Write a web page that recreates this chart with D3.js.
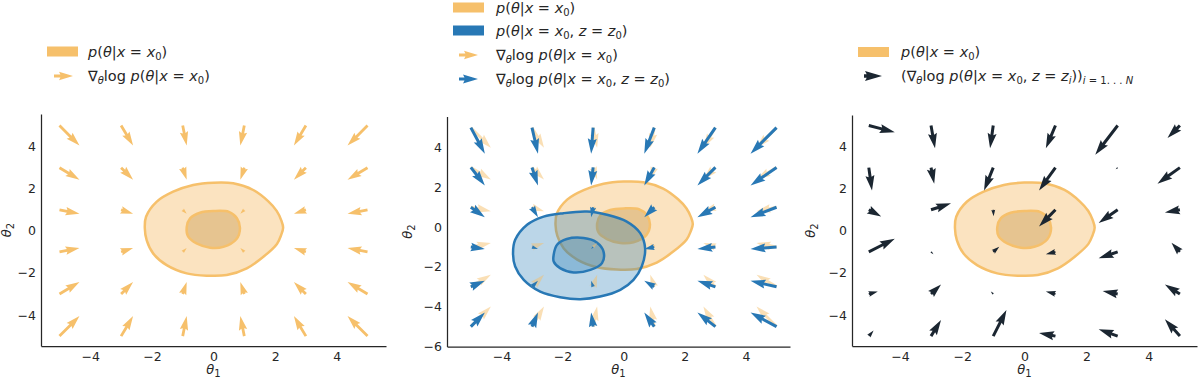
<!DOCTYPE html>
<html>
<head>
<meta charset="utf-8">
<script src="https://cdn.jsdelivr.net/npm/d3@7"></script>
<style>
  body{ margin:0; background:#fff; }
  svg text{ font-family:"DejaVu Sans", sans-serif; fill:#262626; }
</style>
</head>
<body>
<script>
// grid of the quiver plots (rows follow gridY, columns follow gridX)
var gridX = [-5, -3, -1, 1, 3, 5];
var gridY = [5, 3, 1, -1, -3, -5];

// score of p(theta | x = x0)
var uOrange = [
  [5, 3, 1, -1, -3, -5],
  [5, 3, 1, -1, -3, -5],
  [5, 3, 1, -1, -3, -5],
  [5, 3, 1, -1, -3, -5],
  [5, 3, 1, -1, -3, -5],
  [5, 3, 1, -1, -3, -5]];
var vOrange = [
  [-5, -5, -5, -5, -5, -5],
  [-3, -3, -3, -3, -3, -3],
  [-1, -1, -1, -1, -1, -1],
  [1, 1, 1, 1, 1, 1],
  [3, 3, 3, 3, 3, 3],
  [5, 5, 5, 5, 5, 5]];

// score of p(theta | x = x0, z = z0)
var uBlue = [
  [3.5, 1.5, -0.5, -2.5, -4.5, -6.5],
  [3.5, 1.5, -0.5, -2.5, -4.5, -6.5],
  [3.5, 1.5, -0.5, -2.5, -4.5, -6.5],
  [3.5, 1.5, -0.5, -2.5, -4.5, -6.5],
  [3.5, 1.5, -0.5, -2.5, -4.5, -6.5],
  [3.5, 1.5, -0.5, -2.5, -4.5, -6.5]];
var vBlue = [
  [-6.5, -6.5, -6.5, -6.5, -6.5, -6.5],
  [-4.5, -4.5, -4.5, -4.5, -4.5, -4.5],
  [-2.5, -2.5, -2.5, -2.5, -2.5, -2.5],
  [-0.5, -0.5, -0.5, -0.5, -0.5, -0.5],
  [1.5, 1.5, 1.5, 1.5, 1.5, 1.5],
  [3.5, 3.5, 3.5, 3.5, 3.5, 3.5]];

// sampled scores, one z_i per grid point
var uDark = [
  [6.5, 1.0, -0.8, -2.4, -5.6, -3.1],
  [0.8, 0.8, -2.3, -4.1, -0.5, -5.6],
  [3.1, 5.0, 0.1, -4.1, -4.75, -3.75],
  [6.5, 0.6, 1.5, -2.4, -4.75, -2.1],
  [2.25, 2.5, -0.6, -2.4, -3.75, -3.75],
  [1.2, 2.5, 3.3, -4.1, -4.75, -3.75]];
var vDark = [
  [-1.7, -5.7, -5.7, -5.7, -7.3, -3.1],
  [-5.7, -4.0, -5.7, -5.7, -0.4, -4.0],
  [-1.7, 1.6, -1.6, -4.2, -3.3, -0.7],
  [3.3, -0.6, 1.3, -0.6, -1.6, 2.3],
  [0.6, 2.4, 0.6, 0.6, 0.75, 2.4],
  [1.4, 4.0, 6.5, 0.8, 1.7, 4.2]];

// density contours [theta1, theta2]
var orangeOuter = [[-2.23,0.12],[-2.19,0.67],[-1.85,1.38],[-1.31,1.86],[-0.66,2.18],[0,2.29],[0.64,2.26],
  [1.29,1.94],[1.78,1.4],[2.05,0.95],[2.2,0.5],[2.26,0.15],[2.19,-0.22],[2.06,-0.62],[1.62,-1.23],[1.08,-1.78],
  [0.43,-2.1],[-0.22,-2.13],[-0.87,-2.02],[-1.52,-1.63],[-1.96,-1.07],[-2.17,-0.44]];
var orangeInner = [[-0.87,0.18],[-0.76,0.59],[-0.44,0.86],[0,0.94],[0.5,0.9],[0.76,0.6],[0.86,0.14],
  [0.74,-0.4],[0.32,-0.76],[-0.11,-0.8],[-0.55,-0.6],[-0.82,-0.28]];
var blueOuter = [[-3.62,-1.31],[-3.55,-0.64],[-3.16,0.12],[-2.62,0.53],[-1.97,0.7],[-1.2,0.78],[-0.55,0.62],
  [0.1,0.28],[0.54,-0.3],[0.7,-1.06],[0.59,-1.98],[0.32,-2.65],[-0.11,-3.15],[-0.77,-3.49],[-1.42,-3.62],
  [-2.08,-3.52],[-2.73,-3.24],[-3.27,-2.65],[-3.55,-1.98]];
var blueInner = [[-2.29,-1.39],[-2.18,-0.89],[-1.86,-0.6],[-1.31,-0.55],[-0.88,-0.77],[-0.66,-1.23],
  [-0.71,-1.81],[-1.09,-2.15],[-1.64,-2.28],[-2.08,-2.06],[-2.29,-1.73]];

var xTicks = [-4, -2, 0, 2, 4];
var yTicks = [-4, -2, 0, 2, 4];
var yTicksMid = [-6, -4, -2, 0, 2, 4];

var ORANGE = "#f6c06b", BLUE = "#2878b5", DARK = "#1b2631";
var K = 4; // px per unit of score

var svg = d3.select("body").append("svg").attr("width", 1200).attr("height", 380);

// matplotlib-like quiver arrow outline, along +x, in px
function arrowPts(len, w) {
  var L = len / w, hl = 5, hal = 4.5, hw = 3, xs, ys;
  ys = [0.5, 0.5, hw / 2, 0, -hw / 2, -0.5, -0.5];
  if (L >= hl) {
    xs = [0, L - hal, L - hl, L, L - hl, L - hal, 0];
  } else {
    var s = L / hl;
    xs = [0, hl - hal, 0, hl, 0, hl - hal, 0].map(function(d){ return d * s; });
    ys = ys.map(function(d){ return d * s; });
  }
  return xs.map(function(x, i){ return [x * w, ys[i] * w]; });
}
function arrow(g, x, y, dx, dy, w, color, op) {
  var len = Math.sqrt(dx * dx + dy * dy);
  var ang = Math.atan2(dy, dx) * 180 / Math.PI;
  g.append("path")
    .attr("d", "M" + arrowPts(len, w).join("L") + "Z")
    .attr("transform", "translate(" + x + "," + y + ") rotate(" + ang + ")")
    .attr("fill", color).attr("fill-opacity", op == null ? 1 : op);
}
function quiver(g, sx, sy, U, V, w, color, op) {
  gridY.forEach(function(gy, r) {
    gridX.forEach(function(gx, c) {
      arrow(g, sx(gx), sy(gy), K * U[r][c], -K * V[r][c], w, color, op);
    });
  });
}
function contour(g, sx, sy, pts, fill, op, stroke) {
  var line = d3.line().x(function(d){ return sx(d[0]); }).y(function(d){ return sy(d[1]); })
    .curve(d3.curveCatmullRomClosed.alpha(0.5));
  g.append("path").attr("d", line(pts))
    .attr("fill", fill).attr("fill-opacity", op)
    .attr("stroke", stroke).attr("stroke-width", 2.5).attr("stroke-linejoin", "round");
}

// bits of mathtext
function I(s){ return '<tspan font-style="italic">' + s + '</tspan>'; }
function S(s){ return '<tspan font-size="10" baseline-shift="-3">' + s + '</tspan>'; }
var pX = I('p') + '(' + I('θ') + '|' + I('x') + ' = ' + I('x') + S('0');
var grad = '∇' + S(I('θ')) + 'log ';
var labP = pX + ')';
var labPZ = pX + ', ' + I('z') + ' = ' + I('z') + S('0') + ')';
var labG = grad + labP;
var labGZ = grad + labPZ;
var labGZi = '(' + grad + pX + ', ' + I('z') + ' = ' + I('z') + S(I('i')) + '))' + S(I('i') + ' = 1. . . ' + I('N'));

function axes(g, sx, sy, yt, ylabX) {
  var xa = g.append("g").attr("transform", "translate(0," + sy.range()[0] + ")")
    .call(d3.axisBottom(sx).tickValues(xTicks).tickSize(0).tickPadding(6));
  var ya = g.append("g").attr("transform", "translate(" + sx.range()[0] + ",0)")
    .call(d3.axisLeft(sy).tickValues(yt).tickSize(0).tickPadding(5));
  [xa, ya].forEach(function(a) {
    a.select(".domain").attr("stroke", "#262626").attr("stroke-width", 1.25);
    a.selectAll("text").attr("font-size", 12.5).attr("font-family", "DejaVu Sans").attr("fill", "#262626");
  });
  var xm = (sx.range()[0] + sx.range()[1]) / 2, ym = (sy.range()[0] + sy.range()[1]) / 2;
  g.append("text").attr("x", xm).attr("y", 374).attr("text-anchor", "middle").attr("font-size", 13)
    .html(I('θ') + S('1'));
  g.append("text").attr("transform", "translate(" + ylabX + "," + ym + ") rotate(-90)")
    .attr("text-anchor", "middle").attr("font-size", 13).html(I('θ') + S('2'));
}

function legendText(x, y, html) {
  svg.append("text").attr("x", x).attr("y", y).attr("dy", "0.35em").attr("font-size", 14.5).html(html);
}
function legendPatch(x, y, color) {
  svg.append("rect").attr("x", x).attr("y", y - 5).attr("width", 31).attr("height", 10).attr("fill", color);
}

// ---- panel 1
var sx1 = d3.scaleLinear().domain([-5.6, 5.6]).range([41, 386]);
var sy1 = d3.scaleLinear().domain([-5.47, 5.55]).range([346, 114]);
var g1 = svg.append("g");
contour(g1, sx1, sy1, orangeOuter, "#f2a22d", 0.3, ORANGE);
contour(g1, sx1, sy1, orangeInner, "#b57f20", 0.3, ORANGE);
quiver(g1, sx1, sy1, uOrange, vOrange, 2.8, ORANGE);
axes(g1, sx1, sy1, yTicks, 11);
legendPatch(47, 51.5, ORANGE);
legendText(88, 51.5, labP);
arrow(svg, 54, 76, 19, 0, 2.8, ORANGE);
legendText(88, 76, labG);

// ---- panel 2
var sx2 = d3.scaleLinear().domain([-5.78, 5.44]).range([447, 790]);
var sy2 = d3.scaleLinear().domain([-6, 5.56]).range([346.5, 116.5]);
var g2 = svg.append("g");
contour(g2, sx2, sy2, orangeOuter, "#f2a22d", 0.3, ORANGE);
contour(g2, sx2, sy2, orangeInner, "#b57f20", 0.3, ORANGE);
contour(g2, sx2, sy2, blueOuter, "#1f77b4", 0.3, BLUE);
contour(g2, sx2, sy2, blueInner, "#1f77b4", 0.3, BLUE);
quiver(g2, sx2, sy2, uOrange, vOrange, 2.8, ORANGE, 0.5);
quiver(g2, sx2, sy2, uBlue, vBlue, 3, BLUE);
axes(g2, sx2, sy2, yTicksMid, 412);
legendPatch(453, 7.5, ORANGE);
legendText(496, 7.5, labP);
legendPatch(453, 30.5, BLUE);
legendText(496, 30.5, labPZ);
arrow(svg, 459, 55, 19, 0, 2.8, ORANGE);
legendText(496, 55, labG);
arrow(svg, 459, 79, 19, 0, 3, BLUE);
legendText(496, 79, labGZ);

// ---- panel 3
var sx3 = d3.scaleLinear().domain([-5.54, 5.55]).range([852, 1197]);
var sy3 = d3.scaleLinear().domain([-5.47, 5.5]).range([346, 115]);
var g3 = svg.append("g");
contour(g3, sx3, sy3, orangeOuter, "#f2a22d", 0.3, ORANGE);
contour(g3, sx3, sy3, orangeInner, "#b57f20", 0.3, ORANGE);
quiver(g3, sx3, sy3, uDark, vDark, 3, DARK);
axes(g3, sx3, sy3, yTicks, 815);
legendPatch(858, 52, ORANGE);
legendText(901, 52, labP);
arrow(svg, 864, 76, 18, 0, 3.4, DARK);
legendText(901, 76, labGZi);
</script>
</body>
</html>
